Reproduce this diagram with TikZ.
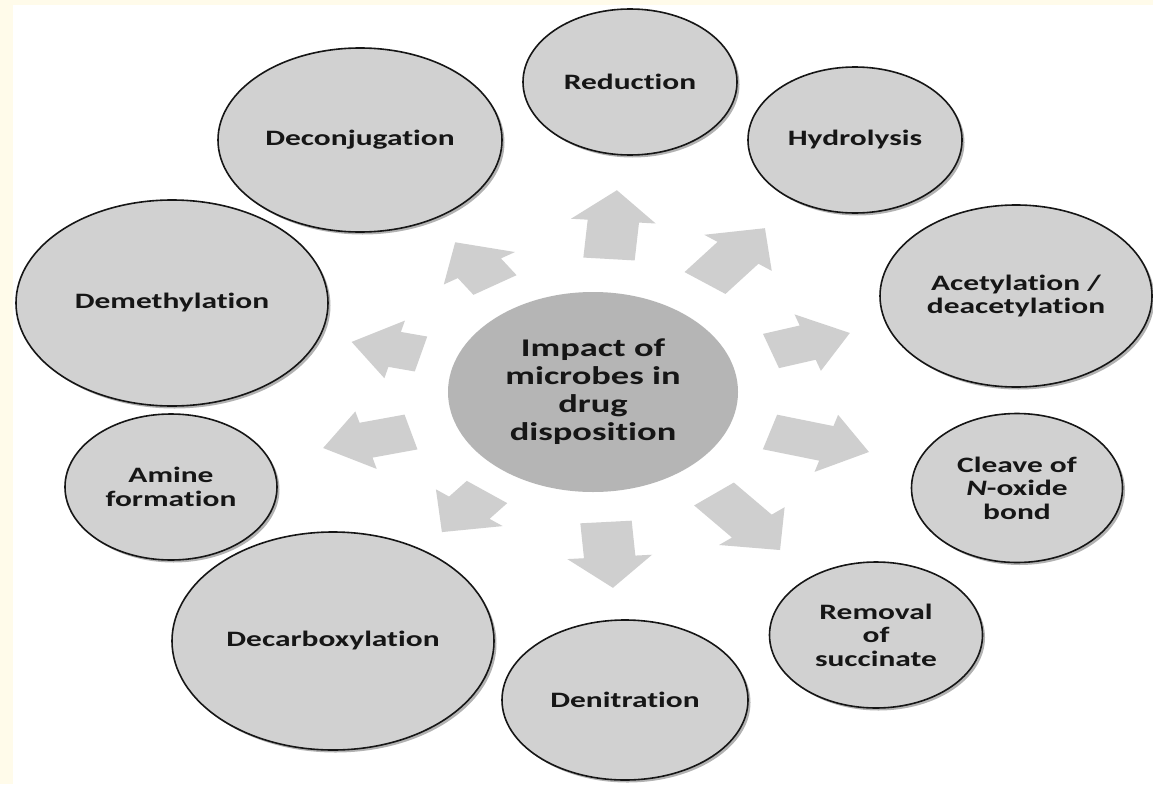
\documentclass[tikz,border=0pt]{standalone}
\usepackage{fontspec}
\newfontfamily\labfont{Carlito}[FakeStretch=1.43, Ligatures={NoCommon}]
\usetikzlibrary{shapes.geometric,shadows}
\definecolor{bubblegray}{HTML}{D1D1D1}
\definecolor{hubgray}{HTML}{B5B5B5}
\definecolor{arrowgray}{HTML}{CFCFCF}
\definecolor{ink}{HTML}{161616}
\definecolor{cream}{HTML}{FFFBEA}
\tikzset{
  bubble/.style={ellipse, draw=ink, line width=1.6pt, fill=bubblegray, inner sep=0pt,
    align=center, text=ink, font=\labfont\bfseries\fontsize{22}{23.5}\selectfont,
    drop shadow={shadow xshift=2.5pt, shadow yshift=-2.5pt, opacity=0.3, fill=black}},
  hubnode/.style={ellipse, fill=hubgray, inner sep=0pt, align=center, text=ink,
    font=\labfont\bfseries\fontsize{25.5}{28}\selectfont},
  arrowfill/.style={fill=arrowgray}
}
% block arrow: #1 tail coordinate, #2 angle (unstretched), #3 length
\newcommand\blockarrow[3]{%
  \pgfmathsetmacro\hb{#3-31}%
  \begin{scope}[shift={#1}, xscale=1.43, rotate=#2]
    \fill[arrowfill] (0pt,18pt) -- (\hb pt,18pt) -- (\hb pt,29.7pt) -- (#3pt,0pt)
      -- (\hb pt,-29.7pt) -- (\hb pt,-18pt) -- (0pt,-18pt) -- cycle;
  \end{scope}}
\begin{document}
\begin{tikzpicture}[x=1pt,y=-1pt]
\useasboundingbox (0,0) rectangle (1153,784);
\fill[white] (0,0) rectangle (1153,784);
\fill[cream] (0,0) rectangle (1153,5);
\fill[cream] (0,0) rectangle (13,784);

% arrows
\coordinate (a1) at (609,259);
\coordinate (a2) at (705,283);
\coordinate (a3) at (771,351);
\coordinate (a4) at (770,432);
\coordinate (a5) at (714,494);
\coordinate (a6) at (606,522);
\coordinate (a7) at (487,492);
\coordinate (a8) at (411,432);
\coordinate (a9) at (421,354);
\coordinate (a10) at (495,285);
\blockarrow{(a1)}{85.4}{69}
\blockarrow{(a2)}{52.6}{69}
\blockarrow{(a3)}{18.1}{58}
\blockarrow{(a4)}{-16.1}{72}
\blockarrow{(a5)}{-50.5}{72.6}
\blockarrow{(a6)}{-85.8}{66}
\blockarrow{(a7)}{231.8}{51}
\blockarrow{(a8)}{194.6}{63.5}
\blockarrow{(a9)}{166}{50}
\blockarrow{(a10)}{123.1}{51}

% hub
\node[hubnode, minimum width=290pt, minimum height=200pt] (hub) at (593,392)
  {Impact of\\microbes in\\drug\\disposition};

% outer bubbles
\node[bubble, minimum width=214pt, minimum height=146pt] (red) at (630,82) {Reduction};
\node[bubble, minimum width=214pt, minimum height=146pt] (hyd) at (855,140) {Hydrolysis};
\node[bubble, minimum width=272pt, minimum height=182pt] (ace) at (1016,296) {Acetylation /\\deacetylation};
\node[bubble, minimum width=211pt, minimum height=149pt] (clv) at (1017,488) {Cleave of\\\textit{N}-oxide\\bond};
\node[bubble, minimum width=213pt, minimum height=146pt] (rem) at (876,635) {Removal\\of\\succinate};
\node[bubble, minimum width=246pt, minimum height=160pt] (den) at (625,700) {Denitration};
\node[bubble, minimum width=322pt, minimum height=218pt] (dec) at (333,641) {Decarboxylation};
\node[bubble, minimum width=212pt, minimum height=146pt] (ami) at (171,487) {Amine\\formation};
\node[bubble, minimum width=312pt, minimum height=206pt] (dem) at (172,303) {Demethylation};
\node[bubble, minimum width=284pt, minimum height=184pt] (dcj) at (360,140) {Deconjugation};
\end{tikzpicture}
\end{document}
